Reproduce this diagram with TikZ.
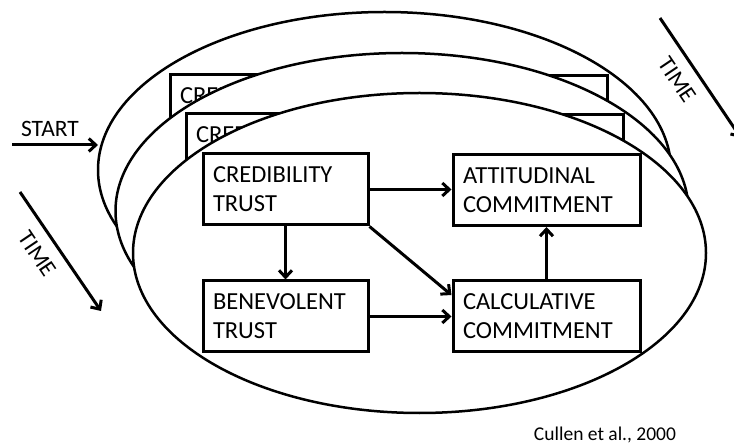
\documentclass[tikz,border=0pt]{standalone}
\usepackage{fontspec}
\setmainfont{Carlito}
\usetikzlibrary{arrows.meta,calc}
\tikzset{
  boxA/.style={draw, line width=3pt, fill=white, rectangle, anchor=center,
    minimum width=#1, minimum height=71pt, text width=#1-20pt, inner xsep=10pt, inner ysep=0pt,
    align=left, font=\fontsize{24.5}{29}\selectfont},
  arr/.style={line width=3pt, -{Straight Barb[length=7pt,width=13pt]}},
  ell/.style={draw, line width=2.5pt, fill=white},
  lbl/.style={font=\fontsize{23.5}{28}\selectfont, inner sep=0pt}
}
% back layers: only the parts that show (top row of boxes)
\newcommand\backlayer[3]{%
  \begin{scope}[shift={(#2,#3)}]
    \node[boxA=165pt] (#1cred) at (285.5,189.5) {CREDIBILITY\\TRUST};
    \node[boxA=187pt] (#1att) at (546.5,190) {};
  \end{scope}}
\newcommand\frontlayer[3]{%
  \begin{scope}[shift={(#2,#3)}]
    \node[boxA=165pt] (#1cred) at (285.5,189.5) {CREDIBILITY\\TRUST};
    \node[boxA=187pt] (#1att) at (546.5,190) {ATTITUDINAL\\COMMITMENT};
    \node[boxA=165pt] (#1ben) at (285.5,316.5) {BENEVOLENT\\TRUST};
    \node[boxA=187pt] (#1calc) at (546.5,316.5) {CALCULATIVE\\COMMITMENT};
    \draw[arr] (#1cred.east) -- (#1cred.east -| #1att.west);
    \draw[arr] (#1cred.south) -- (#1ben.north);
    \draw[arr] (#1cred.south east) -- ($(#1calc.north west)!0.42!(#1calc.west)$);
    \draw[arr] (#1ben.east) -- (#1ben.east -| #1calc.west);
    \draw[arr] (#1calc.north) -- (#1att.south);
  \end{scope}}
\begin{document}
\begin{tikzpicture}[x=1pt,y=-1pt]
  \useasboundingbox[fill=white] (0,0) rectangle (734,446);
  % back layer
  \path[ell] (384.5,170) ellipse [x radius=286.5pt, y radius=158pt];
  \backlayer{b}{-33}{-79}
  % middle layer
  \path[ell] (402,211) ellipse [x radius=286.5pt, y radius=158pt];
  \backlayer{m}{-17}{-40}
  % front layer
  \path[ell] (419.5,253) ellipse [x radius=286.5pt, y radius=160pt];
  \frontlayer{f}{0}{0}
  % START
  \coordinate (s0) at (12,145);
  \coordinate (s1) at (98,145);
  \draw[arr] (s0) -- (s1);
  \node[lbl, anchor=base] (start) at (50,137) {START};
  % TIME left
  \coordinate (t0) at (20,192);
  \coordinate (t1) at (101,311);
  \draw[arr] (t0) -- (t1);
  \node[lbl, rotate=-56] (timeL) at (37,254) {TIME};
  % TIME right
  \coordinate (u0) at (660,18);
  \coordinate (u1) at (741,138);
  \draw[arr] (u0) -- (u1);
  \node[lbl, rotate=-56] (timeR) at (677,80) {TIME};
  % caption
  \node[anchor=base, inner sep=0pt, font=\fontsize{19.5}{23}\selectfont] (cap) at (605,440) {Cullen et al., 2000};
\end{tikzpicture}
\end{document}
